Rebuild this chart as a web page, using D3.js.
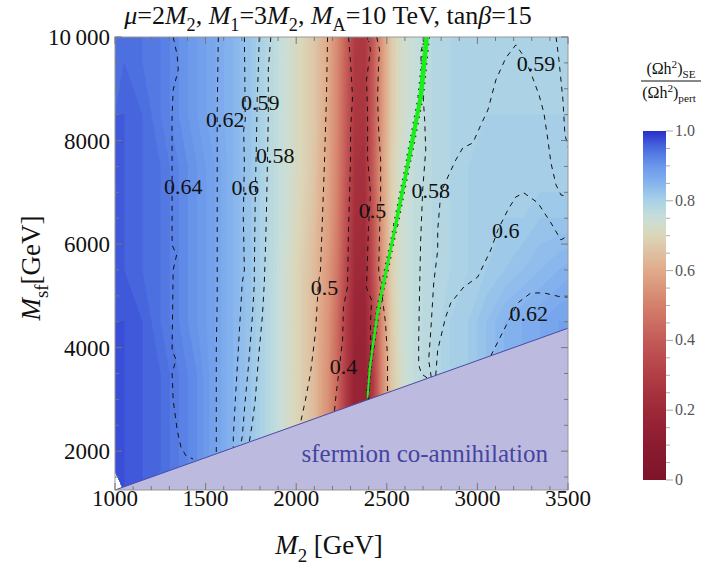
<!DOCTYPE html>
<html><head><meta charset="utf-8">
<script src="https://cdn.jsdelivr.net/npm/d3@7"></script>
<style>
body{margin:0;background:#fff}
svg{display:block}
text{font-family:"Liberation Serif","Times New Roman",serif}
</style>
</head><body>
<svg id="c" width="701" height="567"></svg>
<script>
// ---------- data ----------
const m2Grid = [1000,1100,1200,1300,1400,1500,1600,1700,1800,1900,2000,2100,2150,2200,2250,2300,2350,2400,2450,2500,2550,2600,2700,2800,2900,3000,3100,3200,3300,3400,3500];
const msfGrid = [1250,2000,3000,4000,5000,6000,7000,8000,9000,10000];
const row1250  = [0.97,0.96,0.95,0.93,0.91,0.88,0.85,0.82,0.78,0.73,0.67,0.60,0.54,0.44,0.29,0.16,0.16,0.30,0.52,0.66,0.72,0.76,0.78,0.80,0.81,0.83,0.85,0.86,0.87,0.88,0.88];
const row2000  = [0.97,0.96,0.95,0.93,0.91,0.88,0.85,0.82,0.78,0.73,0.67,0.60,0.54,0.44,0.29,0.16,0.16,0.30,0.52,0.66,0.72,0.76,0.78,0.80,0.81,0.83,0.85,0.86,0.87,0.88,0.88];
const row3000  = [0.97,0.96,0.95,0.93,0.91,0.88,0.85,0.82,0.78,0.73,0.67,0.60,0.54,0.44,0.29,0.16,0.16,0.30,0.52,0.66,0.72,0.76,0.78,0.80,0.81,0.83,0.85,0.86,0.87,0.88,0.88];
const row4000  = [0.97,0.96,0.94,0.92,0.90,0.88,0.85,0.82,0.78,0.73,0.67,0.60,0.55,0.45,0.30,0.18,0.17,0.32,0.53,0.67,0.73,0.76,0.78,0.80,0.81,0.83,0.85,0.86,0.87,0.88,0.88];
const row5000  = [0.96,0.95,0.94,0.92,0.90,0.88,0.85,0.82,0.78,0.73,0.67,0.61,0.56,0.48,0.34,0.21,0.20,0.36,0.55,0.68,0.73,0.76,0.78,0.79,0.80,0.81,0.82,0.83,0.84,0.85,0.86];
const row6000  = [0.96,0.95,0.94,0.92,0.90,0.88,0.85,0.82,0.78,0.74,0.68,0.62,0.58,0.50,0.37,0.23,0.22,0.38,0.56,0.68,0.73,0.76,0.78,0.79,0.80,0.80,0.81,0.81,0.82,0.82,0.82];
const row7000  = [0.96,0.95,0.94,0.92,0.90,0.88,0.85,0.82,0.78,0.74,0.69,0.63,0.59,0.51,0.39,0.25,0.24,0.40,0.57,0.68,0.73,0.76,0.78,0.79,0.80,0.80,0.80,0.80,0.80,0.80,0.80];
const row8000  = [0.96,0.95,0.93,0.91,0.89,0.87,0.85,0.82,0.78,0.74,0.69,0.64,0.59,0.52,0.40,0.27,0.26,0.40,0.56,0.67,0.72,0.75,0.78,0.79,0.79,0.80,0.80,0.80,0.80,0.80,0.80];
const row9000  = [0.95,0.94,0.93,0.91,0.89,0.87,0.85,0.82,0.78,0.74,0.69,0.64,0.60,0.52,0.41,0.28,0.27,0.40,0.56,0.67,0.72,0.75,0.78,0.79,0.79,0.79,0.79,0.79,0.79,0.79,0.79];
const row10000 = [0.95,0.94,0.93,0.91,0.89,0.87,0.85,0.82,0.78,0.74,0.69,0.64,0.60,0.53,0.42,0.30,0.28,0.40,0.56,0.67,0.72,0.75,0.78,0.79,0.79,0.79,0.79,0.79,0.79,0.79,0.78];
const gridRows = [row1250,row2000,row3000,row4000,row5000,row6000,row7000,row8000,row9000,row10000];

// contour lines of the second quantity: [M2, Msf] points
const line064  = [[1321,10000],[1343,9654],[1349,9364],[1321,8978],[1315,8495],[1315,5983],[1340,5790],[1321,5500],[1315,3955],[1337,3762],[1315,3510],[1321,2989],[1343,2409],[1365,2061],[1393,1907],[1431,1849]];
const line062  = [[1570,10000],[1564,8534],[1564,4921],[1559,3955],[1559,2023],[1559,1949]];
const line060  = [[1714,10000],[1719,8400],[1710,8200],[1714,7570],[1708,6520],[1714,5500],[1702,5250],[1691,4590],[1675,3630],[1664,2990],[1653,2270],[1653,2066]];
const line059  = [[1796,10000],[1791,9364],[1785,8843],[1780,7877],[1774,6911],[1769,5500],[1769,5249],[1758,4592],[1736,3626],[1719,2989],[1702,2274],[1692,2115]];
const line058  = [[1860,10000],[1846,9380],[1846,8500],[1841,7550],[1835,6500],[1830,5887],[1824,5249],[1813,4592],[1791,3762],[1774,2989],[1758,2544],[1741,2177]];
const line050a = [[2173,10000],[2167,8843],[2156,7568],[2145,6524],[2134,5500],[2123,5249],[2106,4283],[2079,3510],[2051,2989],[2023,2530]];
const line040a = [[2289,10000],[2300,9500],[2311,8843],[2300,8205],[2300,7626],[2289,6331],[2283,5172],[2261,4786],[2256,4148],[2228,3317],[2217,2989],[2211,2764]];
const line040b = [[2394,10000],[2410,9751],[2388,9171],[2394,8534],[2394,7664],[2410,6988],[2399,6331],[2388,5153],[2416,4921],[2410,4476],[2410,3820],[2405,3510],[2399,3000]];
const line050b = [[2444,10000],[2460,9751],[2455,9500],[2449,8843],[2455,8205],[2466,7626],[2466,6988],[2455,5500],[2477,4921],[2493,4476],[2504,3820],[2504,3130]];
const line058b = [[2709,10000],[2687,9693],[2698,8978],[2709,8398],[2715,7819],[2698,7046],[2687,6080],[2681,5114],[2676,4148],[2676,3665],[2692,3491],[2726,3407]];
const line059b = [[2745,3431],[2742,3510],[2731,3762],[2742,4283],[2759,5249],[2781,5887],[2781,6273],[2798,6988],[2842,7336],[2881,7626],[2919,7857],[2975,7954],[3019,8302],[3058,8592],[3102,9171],[3157,9596],[3212,9847],[3251,9654],[3295,9306],[3340,8881],[3367,8534],[3389,8012],[3406,7568],[3434,7143],[3461,6949],[3506,6911]];
const line060b = [[2770,3462],[2781,3955],[2825,4592],[2853,4863],[2925,5172],[3002,5365],[3074,5887],[3113,6273],[3168,6660],[3212,6911],[3257,6988],[3334,6795],[3406,6408],[3461,6080],[3506,6177]];
const line062b = [[3074,3843],[3146,4341],[3223,4863],[3295,5056],[3367,5056],[3461,4979],[3506,4979]];
const line058c = [[3434,10000],[3450,9558],[3472,8785],[3483,8109],[3506,7819]];
const contourLines = [line064,line062,line060,line059,line058,line050a,line040a,line040b,line050b,line058b,line059b,line060b,line062b,line058c];

const labelText = ["0.64","0.62","0.59","0.58","0.6","0.5","0.4","0.5","0.58","0.59","0.6","0.62"];
const labelM2   = [1376,1608,1802,1885,1719,2156,2261,2421,2742,3323,3157,3284];
const labelMsf  = [7123,8418,8746,7722,7104,5172,3646,6660,7046,9500,6273,4670];

// green line
const greenLine = [[2720,10000],[2687,8843],[2621,7626],[2549,6370],[2477,5153],[2449,4670],[2422,4013],[2405,3568],[2394,3047]];

// sfermion co-annihilation boundary
const sfM2  = [1000,3500];
const sfMsf = [1250,4375];

const xTicks = [1000,1500,2000,2500,3000,3500];
const xTickLabels = ["1000","1500","2000","2500","3000","3500"];
const yTicks = [2000,4000,6000,8000,10000];
const yTickLabels = ["2000","4000","6000","8000","10\u2009000"];
const cbTicks = [0,0.2,0.4,0.6,0.8,1.0];
const cbTickLabels = ["0","0.2","0.4","0.6","0.8","1.0"];

// colour map (value -> colour)
const cmapDomain = [0,0.1,0.2,0.3,0.4,0.5,0.6,0.7,0.75,0.8,0.85,0.9,0.95,1.0];
const cmapRange  = ["#7d1428","#8b1b30","#9d2838","#b13d45","#c45a57","#d4806b","#e0aa8a","#dcd6b8","#c9dfd8","#a9d2e6","#86b4ee","#6a97ea","#4a6ce0","#2a2ecb"];

// ---------- drawing ----------
const svg = d3.select("#c");
const x = d3.scaleLinear().domain([1000,3500]).range([115,568]);
const y = d3.scaleLinear().domain([1250,10000]).range([490,37]);
const color = d3.scaleLinear().domain(cmapDomain).range(cmapRange).clamp(true);

const defs = svg.append("defs");
defs.append("clipPath").attr("id","plotclip").append("rect")
  .attr("x",x(1000)).attr("y",y(10000)).attr("width",x(3500)-x(1000)).attr("height",y(1250)-y(10000));

// heatmap via d3.contours
const n = m2Grid.length, m = msfGrid.length;
const values = [];
gridRows.forEach(r => r.forEach(v => values.push(v)));
const ix = d3.scaleLinear().domain(d3.range(n)).range(m2Grid);
const iy = d3.scaleLinear().domain(d3.range(m)).range(msfGrid);
const proj = d3.geoTransform({point(px,py){ this.stream.point(x(ix(px)), y(iy(py))); }});
const gpath = d3.geoPath(proj);
const thresholds = d3.range(0,1.0001,0.01);
const bands = d3.contours().size([n,m]).thresholds(thresholds)(values);
const heat = svg.append("g").attr("clip-path","url(#plotclip)");
heat.selectAll("path").data(bands).join("path")
  .attr("d", gpath)
  .attr("fill", d => color(d.value+0.005))
  .attr("stroke", d => color(d.value+0.005))
  .attr("stroke-width",0.6);

// dashed contour lines
const lineGen = d3.line().x(d=>x(d[0])).y(d=>y(d[1]));
const cl = svg.append("g").attr("clip-path","url(#plotclip)");
cl.selectAll("path").data(contourLines).join("path")
  .attr("d", lineGen).attr("fill","none").attr("stroke","#111")
  .attr("stroke-width",1).attr("stroke-dasharray","5,5");

// green line with dotted edges
const gl = svg.append("g").attr("clip-path","url(#plotclip)");
const wScale = d3.scaleLinear().domain([3000,10000]).range([1.8,5]);
for (let i=0;i<greenLine.length-1;i++){
  const seg=[greenLine[i],greenLine[i+1]];
  const w = wScale((seg[0][1]+seg[1][1])/2);
  gl.append("path").attr("d",lineGen(seg)).attr("stroke","#222").attr("stroke-width",w+2)
    .attr("stroke-dasharray","1.5,5").attr("fill","none");
}
for (let i=0;i<greenLine.length-1;i++){
  const seg=[greenLine[i],greenLine[i+1]];
  const w = wScale((seg[0][1]+seg[1][1])/2);
  gl.append("path").attr("d",lineGen(seg)).attr("stroke","#19f019").attr("stroke-width",w)
    .attr("stroke-linecap","round").attr("fill","none");
}

// sfermion region
const sfPoly = [[sfM2[0],sfMsf[0]],[sfM2[1],sfMsf[1]],[sfM2[1],1250],[sfM2[0],1250]];
svg.append("path").attr("clip-path","url(#plotclip)")
  .attr("d", d3.line().x(d=>x(d[0])).y(d=>y(d[1]))(sfPoly)+"Z")
  .attr("fill","#bcbade");
svg.append("line").attr("x1",x(sfM2[0])).attr("y1",y(sfMsf[0])).attr("x2",x(sfM2[1])).attr("y2",y(sfMsf[1]))
  .attr("stroke","#4a4aa8").attr("stroke-width",1);
svg.append("text").attr("x",548).attr("y",462).attr("text-anchor","end")
  .attr("font-size",25).attr("fill","#4545a0").text("sfermion co-annihilation");

// contour labels
svg.append("g").selectAll("text").data(labelText).join("text")
  .attr("x",(d,i)=>x(labelM2[i])).attr("y",(d,i)=>y(labelMsf[i])+8)
  .attr("text-anchor","middle").attr("font-size",22).attr("fill","#111").text(d=>d);

// frame + ticks
const fg = svg.append("g");
fg.append("rect").attr("x",x(1000)).attr("y",y(10000)).attr("width",x(3500)-x(1000)).attr("height",y(1250)-y(10000))
  .attr("fill","none").attr("stroke","#999").attr("stroke-width",1);
const xMinor = d3.range(1000,3501,100);
xMinor.forEach(v=>{
  const major = v%500===0; const L = major?7:4;
  fg.append("line").attr("x1",x(v)).attr("x2",x(v)).attr("y1",y(1250)).attr("y2",y(1250)-L).attr("stroke","#777");
  fg.append("line").attr("x1",x(v)).attr("x2",x(v)).attr("y1",y(10000)).attr("y2",y(10000)+L).attr("stroke","#777");
});
const yMinor = d3.range(1500,10001,500);
yMinor.forEach(v=>{
  const major = v%2000===0; const L = major?7:4;
  fg.append("line").attr("y1",y(v)).attr("y2",y(v)).attr("x1",x(1000)).attr("x2",x(1000)+L).attr("stroke","#777");
  fg.append("line").attr("y1",y(v)).attr("y2",y(v)).attr("x1",x(3500)).attr("x2",x(3500)-L).attr("stroke","#777");
});
fg.selectAll("text.xt").data(xTicks).join("text").attr("class","xt")
  .attr("x",d=>x(d)).attr("y",506).attr("text-anchor","middle").attr("font-size",23).attr("fill","#111")
  .text((d,i)=>xTickLabels[i]);
fg.selectAll("text.yt").data(yTicks).join("text").attr("class","yt")
  .attr("x",110).attr("y",d=>y(d)+8).attr("text-anchor","end").attr("font-size",23).attr("fill","#111")
  .text((d,i)=>yTickLabels[i]);

// rich text helper
function rich(sel, parts, size){
  let shift=0;
  parts.forEach(([s,st])=>{
    const t = sel.append("tspan").text(s);
    let target=0;
    if(st==="sub"){target=size*0.28; t.attr("font-size",size*0.7);}
    if(st==="sup"){target=-size*0.38; t.attr("font-size",size*0.7);}
    if(st==="i"){t.attr("font-style","italic");}
    if(target!==shift){t.attr("dy",target-shift); shift=target;}
  });
}
// title
rich(svg.append("text").attr("x",328).attr("y",24).attr("text-anchor","middle").attr("font-size",26).attr("fill","#111"),
  [["μ","i"],["=2",""],["M","i"],["2","sub"],[", ",""],["M","i"],["1","sub"],["=3",""],["M","i"],["2","sub"],[", ",""],["M","i"],["A","sub"],["=10 TeV, tan",""],["β","i"],["=15",""]],26);
// axis titles
rich(svg.append("text").attr("x",329).attr("y",554).attr("text-anchor","middle").attr("font-size",27).attr("fill","#111"),
  [["M","i"],["2","sub"],[" [GeV]",""]],27);
rich(svg.append("text").attr("transform","translate(40,268) rotate(-90)").attr("text-anchor","middle").attr("font-size",27).attr("fill","#111"),
  [["M","i"],["sf","sub"],["[GeV]",""]],27);

// colorbar
const cbX=643, cbW=23;
const cy = d3.scaleLinear().domain([0,1]).range([480,131]);
const grad = defs.append("linearGradient").attr("id","cbg").attr("x1",0).attr("y1",1).attr("x2",0).attr("y2",0);
d3.range(0,1.0001,0.02).forEach(v=>grad.append("stop").attr("offset",v).attr("stop-color",color(v)));
svg.append("rect").attr("x",cbX).attr("y",cy(1)).attr("width",cbW).attr("height",cy(0)-cy(1)).attr("fill","url(#cbg)");
d3.range(0,1.0001,0.05).forEach(v=>{
  const major = Math.abs(v*5-Math.round(v*5))<1e-6;
  svg.append("line").attr("x1",cbX+cbW).attr("x2",cbX+cbW+(major?7:4)).attr("y1",cy(v)).attr("y2",cy(v))
    .attr("stroke","#aaa");
});
svg.selectAll("text.cb").data(cbTicks).join("text").attr("class","cb")
  .attr("x",cbX+cbW+9).attr("y",d=>cy(d)+5).attr("font-size",16).attr("fill","#555")
  .text((d,i)=>cbTickLabels[i]);
rich(svg.append("text").attr("x",671).attr("y",74).attr("text-anchor","middle").attr("font-size",16).attr("fill","#111"),
  [["(Ωh",""],["2","sup"],[")",""],["SE","sub"]],16);
svg.append("line").attr("x1",641).attr("x2",701).attr("y1",81).attr("y2",81).attr("stroke","#111").attr("stroke-width",1);
rich(svg.append("text").attr("x",669).attr("y",98).attr("text-anchor","middle").attr("font-size",16).attr("fill","#111"),
  [["(Ωh",""],["2","sup"],[")",""],["pert","sub"]],16);
</script>
</body></html>
